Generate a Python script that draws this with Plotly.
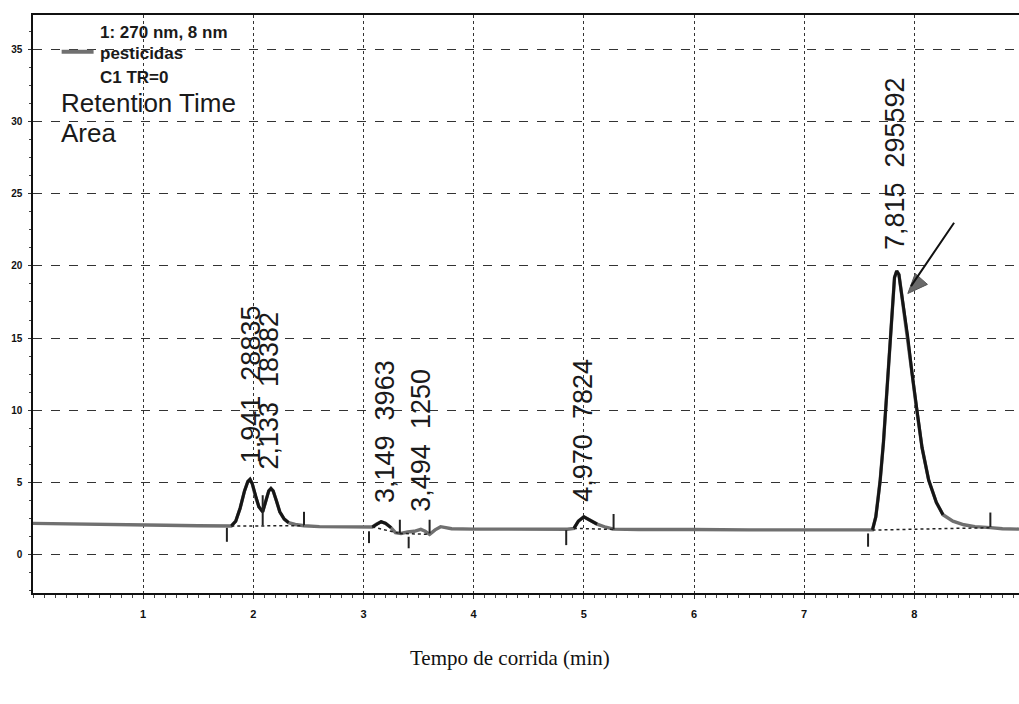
import plotly.graph_objects as go

# ---- data ----
time_min = [0.00, 0.30, 0.60, 0.90, 1.20, 1.50, 1.75, 1.80, 1.84, 1.88, 1.92, 1.95, 1.97, 1.99,
            2.02, 2.05, 2.085, 2.11, 2.14, 2.16, 2.18, 2.21, 2.24, 2.28, 2.32, 2.38, 2.46, 2.60,
            2.80, 3.00, 3.08, 3.12, 3.16, 3.20, 3.25, 3.29, 3.34, 3.40, 3.46, 3.52, 3.56, 3.60,
            3.65, 3.70, 3.75, 3.80, 4.00, 4.30, 4.60, 4.85, 4.91, 4.95, 5.00, 5.05, 5.12, 5.20,
            5.27, 5.50, 5.80, 6.00, 6.50, 7.00, 7.40, 7.58, 7.62, 7.65, 7.67, 7.69, 7.72, 7.74,
            7.76, 7.78, 7.80, 7.82, 7.84, 7.86, 7.88, 7.90, 7.94, 7.98, 8.02, 8.07, 8.13, 8.20,
            8.26, 8.35, 8.45, 8.55, 8.69, 8.80, 8.95]
signal = [2.15, 2.13, 2.10, 2.06, 2.02, 1.98, 1.96, 1.97, 2.30, 3.20, 4.40, 5.05, 5.20, 4.90,
          4.00, 3.30, 2.95, 3.60, 4.40, 4.57, 4.40, 3.70, 2.95, 2.45, 2.20, 2.07, 1.98, 1.92,
          1.90, 1.88, 1.90, 2.10, 2.26, 2.15, 1.85, 1.50, 1.45, 1.55, 1.60, 1.73, 1.60, 1.39,
          1.70, 1.92, 1.85, 1.78, 1.75, 1.73, 1.76, 1.74, 1.80, 2.30, 2.60, 2.40, 2.10, 1.88,
          1.75, 1.72, 1.75, 1.72, 1.70, 1.68, 1.66, 1.66, 1.70, 2.60, 3.80, 5.15, 7.80, 10.10,
          12.70, 15.10, 17.50, 19.20, 19.65, 19.40, 18.30, 17.20, 15.10, 12.50, 10.10, 7.40, 5.15, 3.60,
          2.75, 2.30, 2.05, 1.92, 1.85, 1.78, 1.75]

# peak segments drawn darker (start, end in minutes)
peak_start = [1.80, 3.08, 4.91, 7.62]
peak_end = [2.32, 3.25, 5.15, 8.30]

# peak labels: retention time, area
peak_rt_label = ["1,941", "2,133", "3,149", "3,494", "4,970", "7,815"]
peak_area = ["28835", "18382", "3963", "1250", "7824", "295592"]
label_x = [1.98, 2.14, 3.19, 3.52, 4.99, 7.83]
label_y = [6.19, 5.72, 3.42, 2.84, 3.53, 20.97]

# integration markers: time, low, high
mark_t = [1.76, 2.085, 2.46, 3.05, 3.33, 3.41, 3.60, 4.84, 5.27, 7.58, 8.69]
mark_lo = [0.87, 2.00, 2.03, 0.78, 1.45, 0.42, 1.45, 0.64, 1.73, 0.53, 1.90]
mark_hi = [1.84, 4.10, 2.95, 1.60, 2.40, 1.22, 2.40, 1.68, 2.80, 1.45, 2.90]

# dotted baselines under peaks: (t0, v0, t1, v1)
base_t0 = [1.80, 3.08, 3.33, 4.91, 7.62]
base_v0 = [1.97, 1.90, 1.45, 1.80, 1.68]
base_t1 = [2.46, 3.33, 3.60, 5.27, 8.69]
base_v1 = [1.98, 1.45, 1.39, 1.73, 1.85]

x_ticks = [1, 2, 3, 4, 5, 6, 7, 8]
y_ticks = [0, 5, 10, 15, 20, 25, 30, 35]

fig = go.Figure()

# full trace (gray)
fig.add_trace(go.Scatter(x=time_min, y=signal, mode="lines",
                         line=dict(color="#707070", width=3.4), hoverinfo="skip"))

# peak segments (black)
for s, e in zip(peak_start, peak_end):
    xs = [t for t in time_min if s <= t <= e]
    ys = [v for t, v in zip(time_min, signal) if s <= t <= e]
    fig.add_trace(go.Scatter(x=xs, y=ys, mode="lines",
                             line=dict(color="#151515", width=3), hoverinfo="skip"))

# dotted baselines
for a, b, c, d in zip(base_t0, base_v0, base_t1, base_v1):
    fig.add_trace(go.Scatter(x=[a, c], y=[b, d], mode="lines",
                             line=dict(color="#222", width=1.5, dash="dot"), hoverinfo="skip"))

# integration markers
mx, my = [], []
for t, lo, hi in zip(mark_t, mark_lo, mark_hi):
    mx += [t, t, None]
    my += [lo, hi, None]
fig.add_trace(go.Scatter(x=mx, y=my, mode="lines",
                         line=dict(color="#222", width=2), hoverinfo="skip"))

# peak labels
for rt, ar, lx, ly in zip(peak_rt_label, peak_area, label_x, label_y):
    fig.add_annotation(x=lx, y=ly, xref="x", yref="y", text=f"{rt}  {ar}",
                       textangle=-90, showarrow=False, yanchor="bottom", xanchor="center",
                       font=dict(family="Liberation Sans, Arial", size=27, color="#1a1a1a"))

# legend-like texts
legend_font = dict(family="Liberation Sans, Arial", size=17, color="#1a1a1a")
fig.add_annotation(x=0.59, y=36.2, text="<b>1: 270 nm, 8 nm</b>", showarrow=False,
                   xanchor="left", yanchor="middle", font=legend_font)
fig.add_annotation(x=0.59, y=34.7, text="<b>pesticidas</b>", showarrow=False,
                   xanchor="left", yanchor="middle", font=legend_font)
fig.add_annotation(x=0.59, y=33.1, text="<b>C1 TR=0</b>", showarrow=False,
                   xanchor="left", yanchor="middle", font=legend_font)
fig.add_shape(type="line", x0=0.26, x1=0.55, y0=34.85, y1=34.85, xref="x", yref="y",
              line=dict(color="#707070", width=4))
fig.add_annotation(x=0.24, y=31.3, text="Retention Time", showarrow=False,
                   xanchor="left", yanchor="middle",
                   font=dict(family="Liberation Sans, Arial", size=26, color="#1a1a1a"))
fig.add_annotation(x=0.24, y=29.2, text="Area", showarrow=False,
                   xanchor="left", yanchor="middle",
                   font=dict(family="Liberation Sans, Arial", size=26, color="#1a1a1a"))

# arrow
fig.add_annotation(x=7.97, y=18.6, ax=8.37, ay=23.1, xref="x", yref="y", axref="x", ayref="y",
                   text="", showarrow=True, arrowhead=0, arrowwidth=2, arrowcolor="#111")
fig.add_shape(type="path", xref="x", yref="y",
              path="M 7.941 18.09 L 8.008 19.47 L 8.119 18.72 Z",
              fillcolor="#6a6a6a", line=dict(color="#555", width=1))

# x title
fig.add_annotation(x=0.484, y=-0.112, xref="paper", yref="paper", text="Tempo de corrida (min)",
                   showarrow=False, xanchor="center", yanchor="middle",
                   font=dict(family="Liberation Serif, Times New Roman", size=21, color="#111"))

fig.update_layout(
    width=1019, height=704,
    margin=dict(l=33, r=0, t=15, b=111),
    paper_bgcolor="white", plot_bgcolor="white",
    showlegend=False,
    xaxis=dict(range=[0, 8.95], tickvals=x_ticks, ticktext=[str(v) for v in x_ticks],
               showgrid=True, gridcolor="#333", gridwidth=1, griddash="dot",
               showline=True, linecolor="#111", linewidth=1.5, mirror=True,
               ticks="outside", ticklen=4, tickcolor="#333",
               minor=dict(dtick=0.1, tick0=0, ticks="outside", ticklen=3, tickcolor="#444", showgrid=False),
               tickfont=dict(family="Liberation Sans, Arial", size=11, color="#111", weight="bold"),
               ticklabelstandoff=6, zeroline=False, fixedrange=True),
    yaxis=dict(range=[-2.68, 37.4], tickvals=y_ticks, ticktext=[str(v) for v in y_ticks],
               showgrid=True, gridcolor="#333", gridwidth=1, griddash="dash",
               showline=True, linecolor="#111", linewidth=1.5,
               ticks="outside", ticklen=3, tickcolor="#333",
               minor=dict(dtick=1.25, tick0=0, ticks="outside", ticklen=2, tickcolor="#444", showgrid=False),
               tickfont=dict(family="Liberation Sans, Arial", size=10, color="#111", weight="bold"),
               ticklabelstandoff=4, zeroline=False, fixedrange=True),
)

fig.write_html("out.html")
